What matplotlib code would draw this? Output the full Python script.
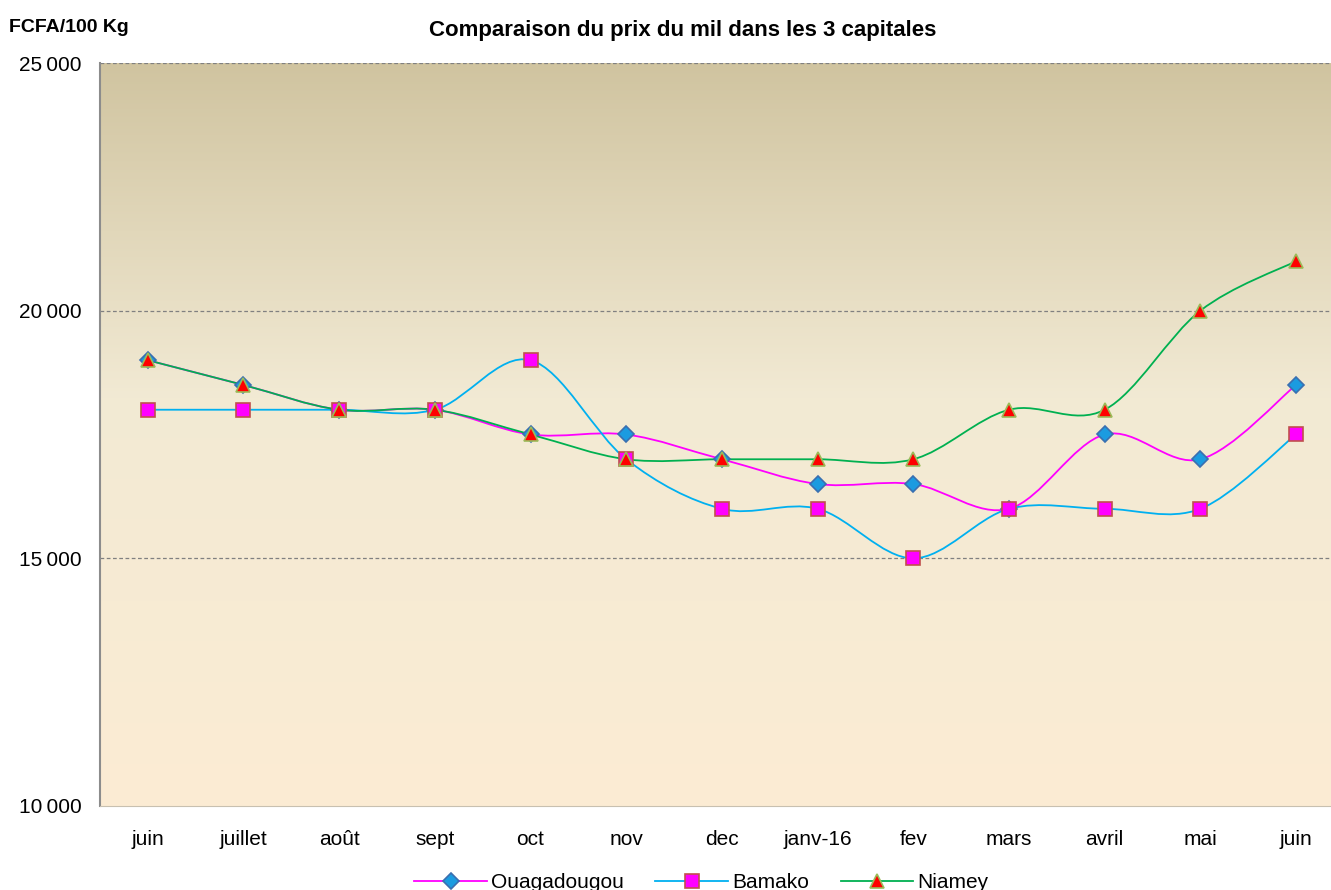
import numpy as np
import matplotlib
matplotlib.use('Agg')
import matplotlib.pyplot as plt
from matplotlib.path import Path
from matplotlib.patches import PathPatch
from matplotlib.lines import Line2D

plt.rcParams['font.family'] = ['Liberation Sans', 'DejaVu Sans']

# data
mois = ['juin', 'juillet', 'août', 'sept', 'oct', 'nov', 'dec', 'janv-16',
        'fev', 'mars', 'avril', 'mai', 'juin']
ouaga = [19000, 18500, 18000, 18000, 17500, 17500, 17000, 16500, 16500, 16000, 17500, 17000, 18500]
bamako = [18000, 18000, 18000, 18000, 19000, 17000, 16000, 16000, 15000, 16000, 16000, 16000, 17500]
niamey = [19000, 18500, 18000, 18000, 17500, 17000, 17000, 17000, 17000, 18000, 18000, 20000, 21000]
yticks = [10000, 15000, 20000, 25000]
ytick_labels = ['10\u2009000', '15\u2009000', '20\u2009000', '25\u2009000']


def smooth_path(x, y):
    # excel-like smoothed line: bezier segments through each point
    p = np.column_stack([x, y]).astype(float)
    pts = np.vstack([p[0], p, p[-1]])
    verts = [p[0]]
    codes = [Path.MOVETO]
    for i in range(1, len(pts) - 2):
        c1 = pts[i] + (pts[i + 1] - pts[i - 1]) / 6
        c2 = pts[i + 1] - (pts[i + 2] - pts[i]) / 6
        verts += [c1, c2, pts[i + 1]]
        codes += [Path.CURVE4] * 3
    return Path(verts, codes)


fig = plt.figure(figsize=(13.31, 8.9), dpi=100)
ax = fig.add_axes([0.0751, 0.0944, 0.9346, 0.8348])

# gradient background
top = np.array([208, 196, 160]) / 255
mid = np.array([242, 234, 212]) / 255
bot = np.array([252, 236, 211]) / 255
t = np.linspace(0, 1, 256)[:, None]
grad = np.where(t < 0.45, top + (mid - top) * (t / 0.45), mid + (bot - mid) * ((t - 0.45) / 0.55))
ax.imshow(grad[:, None, :], extent=[0, 1, 0, 1], transform=ax.transAxes,
          aspect='auto', zorder=0)

x = np.arange(len(mois))
series = [
    ('Ouagadougou', ouaga, '#FF00FF', 'D', '#1B9BE0', '#3A6FB0', 8),
    ('Bamako', bamako, '#00B0F0', 's', '#FF00FF', '#C0504D', 10),
    ('Niamey', niamey, '#00B050', '^', '#FF0000', '#9BBB59', 10),
]
handles = []
for name, vals, lc, mk, mfc, mec, ms in series:
    ax.add_patch(PathPatch(smooth_path(x, vals), facecolor='none', edgecolor=lc,
                           lw=1.3, zorder=3))
    ax.plot(x, vals, linestyle='none', marker=mk, markersize=ms,
            markerfacecolor=mfc, markeredgecolor=mec, markeredgewidth=1.2, zorder=4)
    handles.append(Line2D([], [], color=lc, lw=1.3, marker=mk, markersize=ms,
                          markerfacecolor=mfc, markeredgecolor=mec, markeredgewidth=1.2))

ax.set_xlim(-0.5, len(mois) - 0.5)
ax.set_ylim(10000, 25000)
ax.set_yticks(yticks)
ax.set_yticklabels(ytick_labels, fontsize=15)
ax.set_xticks(x)
ax.set_xticklabels(mois, fontsize=15)
ax.tick_params(axis='x', length=0, pad=17)
ax.tick_params(axis='y', length=0, pad=13)
for yv in yticks[1:]:
    ax.axhline(yv, color='#808080', lw=0.9, ls=(0, (3, 2)), zorder=1)

for s in ['top', 'right']:
    ax.spines[s].set_visible(False)
ax.spines['left'].set_color('#8C8C8C')
ax.spines['left'].set_linewidth(1.5)
ax.spines['bottom'].set_color('#C8C0B0')
ax.spines['bottom'].set_linewidth(0.8)

fig.text(0.513, 0.966, 'Comparaison du prix du mil dans les 3 capitales',
         ha='center', va='center', fontsize=16, fontweight='bold')
fig.text(0.007, 0.969, 'FCFA/100 Kg', ha='left', va='center', fontsize=14, fontweight='bold')

fig.legend(handles, [s[0] for s in series], loc='center', bbox_to_anchor=(0.527, 0.008),
           ncol=3, frameon=False, fontsize=15, handlelength=3.5, columnspacing=1.5,
           handletextpad=0.2)

fig.savefig('out.png', dpi=100)
